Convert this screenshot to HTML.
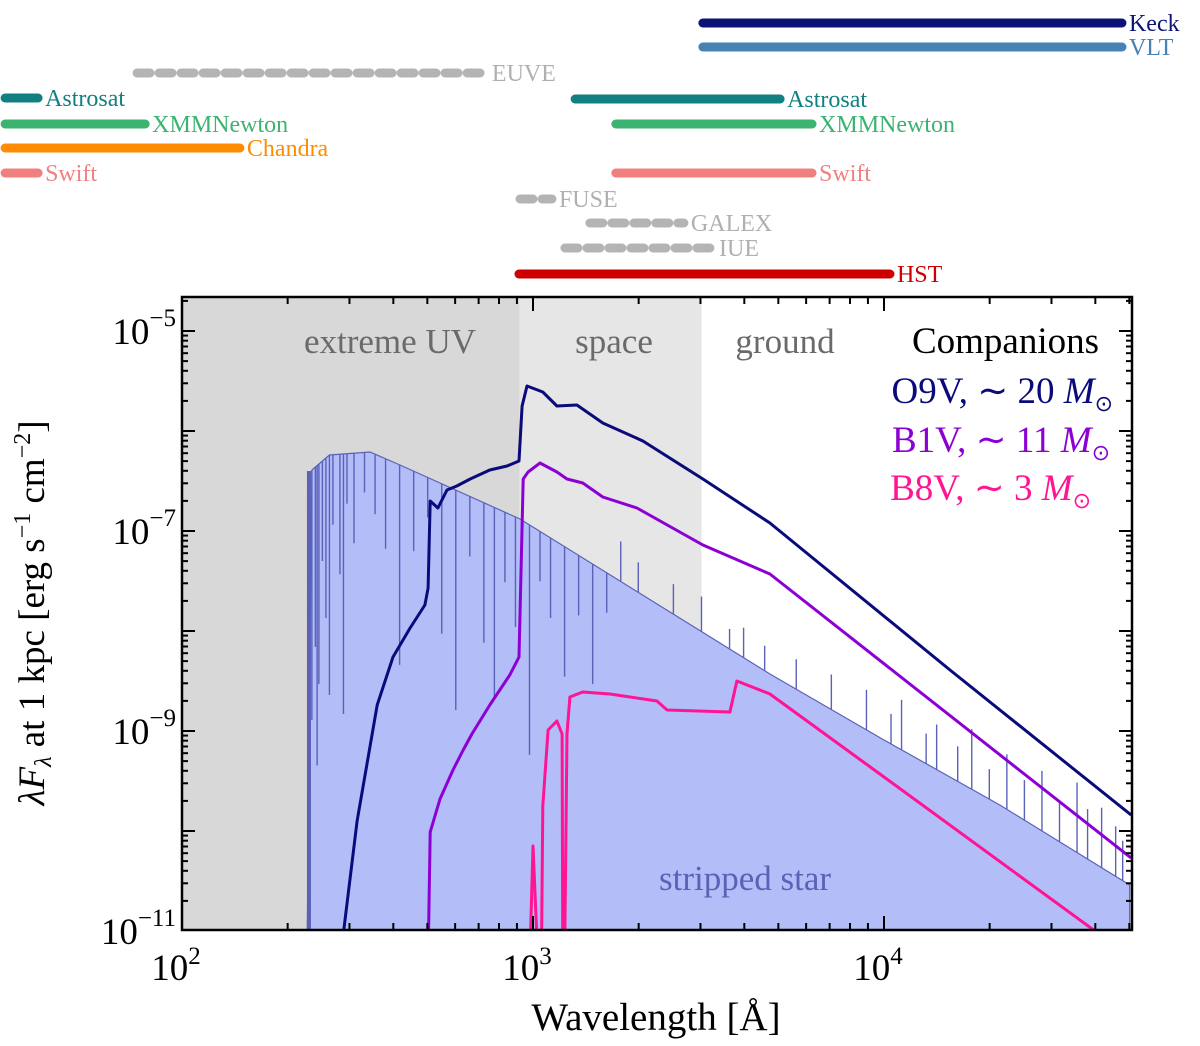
<!DOCTYPE html>
<html><head><meta charset="utf-8">
<style>
html,body{margin:0;padding:0;background:#fff;width:1200px;height:1046px;overflow:hidden;position:relative;}
svg{display:block;font-family:"Liberation Serif",serif;}
</style></head>
<body>
<svg id="chart" width="1200" height="1046" viewBox="0 0 1200 1046" xmlns="http://www.w3.org/2000/svg" style="position:absolute;left:0;top:0">
<defs><clipPath id="plotclip"><rect x="182" y="297" width="950" height="633"/></clipPath></defs>
<g id="bg" clip-path="url(#plotclip)"></g>
<g id="marks" clip-path="url(#plotclip)"></g>
<g id="axes"></g>
<g id="bars"></g>
<g id="texts"></g>
</svg>
<script>
// ---- data (log10 wavelength [Å], log10 flux) ----
const strippedLogLam = [2.356,2.37,2.42,2.536,2.621,2.963,3.675,4.0,4.33,4.70];
const strippedLogF   = [-11.3,-6.39,-6.24,-6.21,-6.34,-6.88,-8.43,-9.09,-9.74,-10.54];
// absorption/emission lines on the stripped star: [log lambda, depth dex]
const lineLogLam = [2.36,2.365,2.37,2.38,2.385,2.39,2.40,2.41,2.42,2.43,2.45,2.46,2.47,2.49,2.52,2.55,2.58,2.62,2.66,2.70,2.74,2.78,2.82,2.86,2.89,2.92,2.95,2.99,3.02,3.05,3.09,3.13,3.17,3.21,3.25,3.30,3.40,3.48,3.56,3.60,3.66,3.75,3.85,3.95,4.02,4.05,4.12,4.15,4.21,4.25,4.30,4.35,4.40,4.45,4.50,4.55,4.58,4.62,4.66,4.68];
const lineDepth  = [3.2,1.5,2.5,1.8,3.0,2.2,1.0,1.6,2.4,0.7,1.2,2.6,0.5,0.9,0.4,0.6,0.9,2.0,0.8,0.4,1.5,2.2,0.6,1.4,1.9,0.7,1.1,2.3,0.5,0.8,1.3,0.6,1.2,0.4,-0.4,-0.3,-0.3,-0.35,-0.2,-0.3,-0.25,-0.3,-0.35,-0.4,-0.3,-0.5,-0.3,-0.45,-0.35,-0.6,-0.3,-0.55,-0.4,-0.6,-0.4,-0.7,-0.5,-0.6,-0.5,-0.4];
const o9LogLam = [2.45,2.499,2.556,2.601,2.650,2.692,2.701,2.707,2.729,2.755,2.783,2.821,2.877,2.926,2.960,2.969,2.983,3.028,3.068,3.125,3.199,3.313,3.484,3.675,4.188,4.704];
const o9LogF   = [-11.3,-9.90,-8.74,-8.26,-7.97,-7.74,-7.57,-6.70,-6.77,-6.59,-6.55,-6.48,-6.39,-6.35,-6.30,-5.75,-5.55,-5.61,-5.75,-5.74,-5.92,-6.10,-6.48,-6.92,-8.39,-9.84];
const b1LogLam = [2.701,2.707,2.735,2.772,2.801,2.826,2.877,2.934,2.960,2.972,2.986,3.020,3.068,3.097,3.142,3.199,3.296,3.484,3.675,4.704];
const b1LogF   = [-11.3,-10.01,-9.68,-9.39,-9.19,-9.03,-8.74,-8.44,-8.26,-6.48,-6.41,-6.32,-6.41,-6.48,-6.52,-6.66,-6.77,-7.14,-7.43,-10.27];
const b8LogLam = [2.991,3.000,3.014,3.024,3.028,3.043,3.068,3.083,3.085,3.090,3.097,3.105,3.142,3.219,3.353,3.382,3.561,3.581,3.675,4.0,4.601,4.70];
const b8LogF   = [-11.3,-10.15,-11.3,-11.3,-9.75,-8.99,-8.90,-9.03,-11.3,-11.3,-9.03,-8.66,-8.61,-8.63,-8.70,-8.79,-8.81,-8.50,-8.63,-9.46,-11.0,-11.3];
// regions [log start, log end]
const regionNames = ['extreme UV','space','ground'];
const regionStart = [2.0,2.962,3.48];
const regionEnd   = [2.962,3.48,4.70];
const regionFill  = ['#d8d8d8','#e6e6e6','#ffffff'];
// instruments
const instNames = ['Keck','VLT','EUVE','Astrosat','Astrosat','XMMNewton','XMMNewton','Chandra','Swift','Swift','FUSE','GALEX','IUE','HST'];
const instStart = [3.484,3.484,1.872,1.496,3.120,1.496,3.236,1.496,1.496,3.236,2.963,3.162,3.091,2.960];
const instEnd   = [4.678,4.678,2.863,1.590,3.704,1.895,3.795,2.165,1.590,3.795,3.054,3.430,3.510,4.017];
const instRow   = [23,47,73,98,99,124,124,148,173,173,199,223,248,274];
const instColor = ['#0b1377','#4682b4','#b4b4b4','#128080','#128080','#3cb371','#3cb371','#ff8c00','#f08080','#f08080','#b4b4b4','#b4b4b4','#b4b4b4','#cc0000'];
const instDashed= [0,0,1,0,0,0,0,0,0,0,1,1,1,0];
const yTickExp = [-5,-7,-9,-11];
const xTickExp = [2,3,4];

// ---- scales ----
const X0=182, XD=351, Y0=331, YD=100;
const sx = l => X0 + (l-2)*XD;
const sy = f => Y0 + (-5 - f)*YD;
const NS='http://www.w3.org/2000/svg';
function mk(tag, parent, attrs){const e=document.createElementNS(NS,tag);for(const k in attrs)e.setAttribute(k,attrs[k]);parent.appendChild(e);return e;}
const bg=document.getElementById('bg'), marks=document.getElementById('marks'), axes=document.getElementById('axes'), bars=document.getElementById('bars');

regionNames.forEach((n,i)=>{
  const r=mk('rect',bg,{x:sx(regionStart[i]),y:297,width:sx(regionEnd[i])-sx(regionStart[i]),height:633,fill:regionFill[i]});
  
  
});

let pts=[[sx(strippedLogLam[0]),930]];
strippedLogLam.forEach((l,i)=>pts.push([sx(l),sy(strippedLogF[i])]));
pts.push([sx(strippedLogLam[strippedLogLam.length-1]),935]);
const poly=mk('polygon',marks,{points:pts.map(p=>p.join(',')).join(' '),fill:'#b3bdf8',stroke:'#5a62b8','stroke-width':1.2});


function stripF(l){for(let i=1;i<strippedLogLam.length;i++){if(l<=strippedLogLam[i]){const a=strippedLogLam[i-1],b=strippedLogLam[i];return strippedLogF[i-1]+(strippedLogF[i]-strippedLogF[i-1])*(l-a)/(b-a);}}return strippedLogF[strippedLogF.length-1];}
lineLogLam.forEach((l,i)=>{
  const f=stripF(l);
  const ln=mk('line',marks,{x1:sx(l),x2:sx(l),y1:sy(f),y2:sy(f-lineDepth[i]),stroke:'#5a62b8','stroke-width':1.4});
  
  
});
const edge=mk('rect',marks,{x:sx(2.356),y:sy(-6.4),width:4,height:930-sy(-6.4),fill:'#5a62b8'});



function series(ll,lf,color,name){
  const d=ll.map((l,i)=>(i?'L':'M')+sx(l).toFixed(1)+','+sy(lf[i]).toFixed(1)).join(' ');
  const p=mk('path',marks,{d:d,fill:'none',stroke:color,'stroke-width':3,'stroke-linejoin':'round'});
  
  
}
series(o9LogLam,o9LogF,'#0a0a7a','o9v-spectrum');
series(b1LogLam,b1LogF,'#8c00d4','b1v-spectrum');
series(b8LogLam,b8LogF,'#ff1493','b8v-spectrum');

const fr=mk('rect',axes,{x:182,y:297,width:950,height:633,fill:'none',stroke:'#000','stroke-width':2.5});


for(let dec=2;dec<=4;dec++){for(let m=1;m<=9;m++){const l=dec+Math.log10(m);if(sx(l)>1131)continue;const len=m===1?14:7;
  const t1=mk('line',axes,{x1:sx(l),x2:sx(l),y1:930,y2:930-len,stroke:'#000','stroke-width':2});
  
  const t2=mk('line',axes,{x1:sx(l),x2:sx(l),y1:297,y2:297+len,stroke:'#000','stroke-width':2});
  }}
for(let dec=-11;dec<=-5;dec++){for(let m=1;m<=9;m++){const f=dec+Math.log10(m);const y=sy(f);if(y<298||y>930)continue;const len=m===1?13:6;
  const t1=mk('line',axes,{x1:182,x2:182+len,y1:y,y2:y,stroke:'#000','stroke-width':2});
  
  const t2=mk('line',axes,{x1:1132,x2:1132-len,y1:y,y2:y,stroke:'#000','stroke-width':2});
  }}
xTickExp.forEach(e=>{
  const t=mk('text',axes,{x:sx(e)-6,y:980,'font-size':37,'text-anchor':'middle'});
  
  t.innerHTML='10<tspan font-size="25" dy="-16">'+e+'</tspan>';
});
yTickExp.forEach(e=>{
  const t=mk('text',axes,{x:176,y:sy(e)+13,'font-size':37,'text-anchor':'end'});
  
  t.innerHTML='10<tspan font-size="25" dy="-18">\u2212'+Math.abs(e)+'</tspan>';
});

instNames.forEach((n,i)=>{
  const a={x1:sx(instStart[i]),x2:sx(instEnd[i]),y1:instRow[i],y2:instRow[i],stroke:instColor[i],'stroke-width':9,'stroke-linecap':'round'};
  if(instDashed[i]) a['stroke-dasharray']='13,9';
  const b=mk('line',bars,a);
  
  
  const t=mk('text',bars,{x:sx(instEnd[i])+7,y:instRow[i]+8,'font-size':24,fill:instColor[i]==='#b4b4b4'?'#b0b0b0':instColor[i]});
  
  
  t.textContent=n;
});
</script>
<svg style="position:absolute;left:0;top:0" width="1200" height="1046" font-family="Liberation Serif, serif">
<text x="390" y="353" font-size="35" fill="#6a6a6a" text-anchor="middle">extreme UV</text>
<text x="614" y="353" font-size="35" fill="#6a6a6a" text-anchor="middle">space</text>
<text x="785" y="353" font-size="35" fill="#6a6a6a" text-anchor="middle">ground</text>
<text x="1099" y="353" font-size="37" fill="#000" text-anchor="end">Companions</text>
<text x="1113" y="403" font-size="37" fill="#0a0a7a" text-anchor="end">O9V, ∼ 20 <tspan font-style="italic">M</tspan><tspan font-size="22" dy="8">⊙</tspan></text>
<text x="1110" y="452" font-size="37" fill="#8c00d4" text-anchor="end">B1V, ∼ 11 <tspan font-style="italic">M</tspan><tspan font-size="22" dy="8">⊙</tspan></text>
<text x="1091" y="500" font-size="37" fill="#ff1493" text-anchor="end">B8V, ∼ 3 <tspan font-style="italic">M</tspan><tspan font-size="22" dy="8">⊙</tspan></text>
<text x="745" y="890" font-size="35" fill="#5a62b8" text-anchor="middle">stripped star</text>
<text x="656" y="1030" font-size="39" text-anchor="middle">Wavelength [Å]</text>
<text transform="translate(44,613) rotate(-90)" font-size="37" text-anchor="middle"><tspan font-style="italic">λF</tspan><tspan font-style="italic" font-size="24" dy="7">λ</tspan><tspan dy="-7"> at 1 kpc [erg s</tspan><tspan font-size="24" dy="-14">−1</tspan><tspan dy="14"> cm</tspan><tspan font-size="24" dy="-14">−2</tspan><tspan dy="14">]</tspan></text>
</svg>
</body></html>
